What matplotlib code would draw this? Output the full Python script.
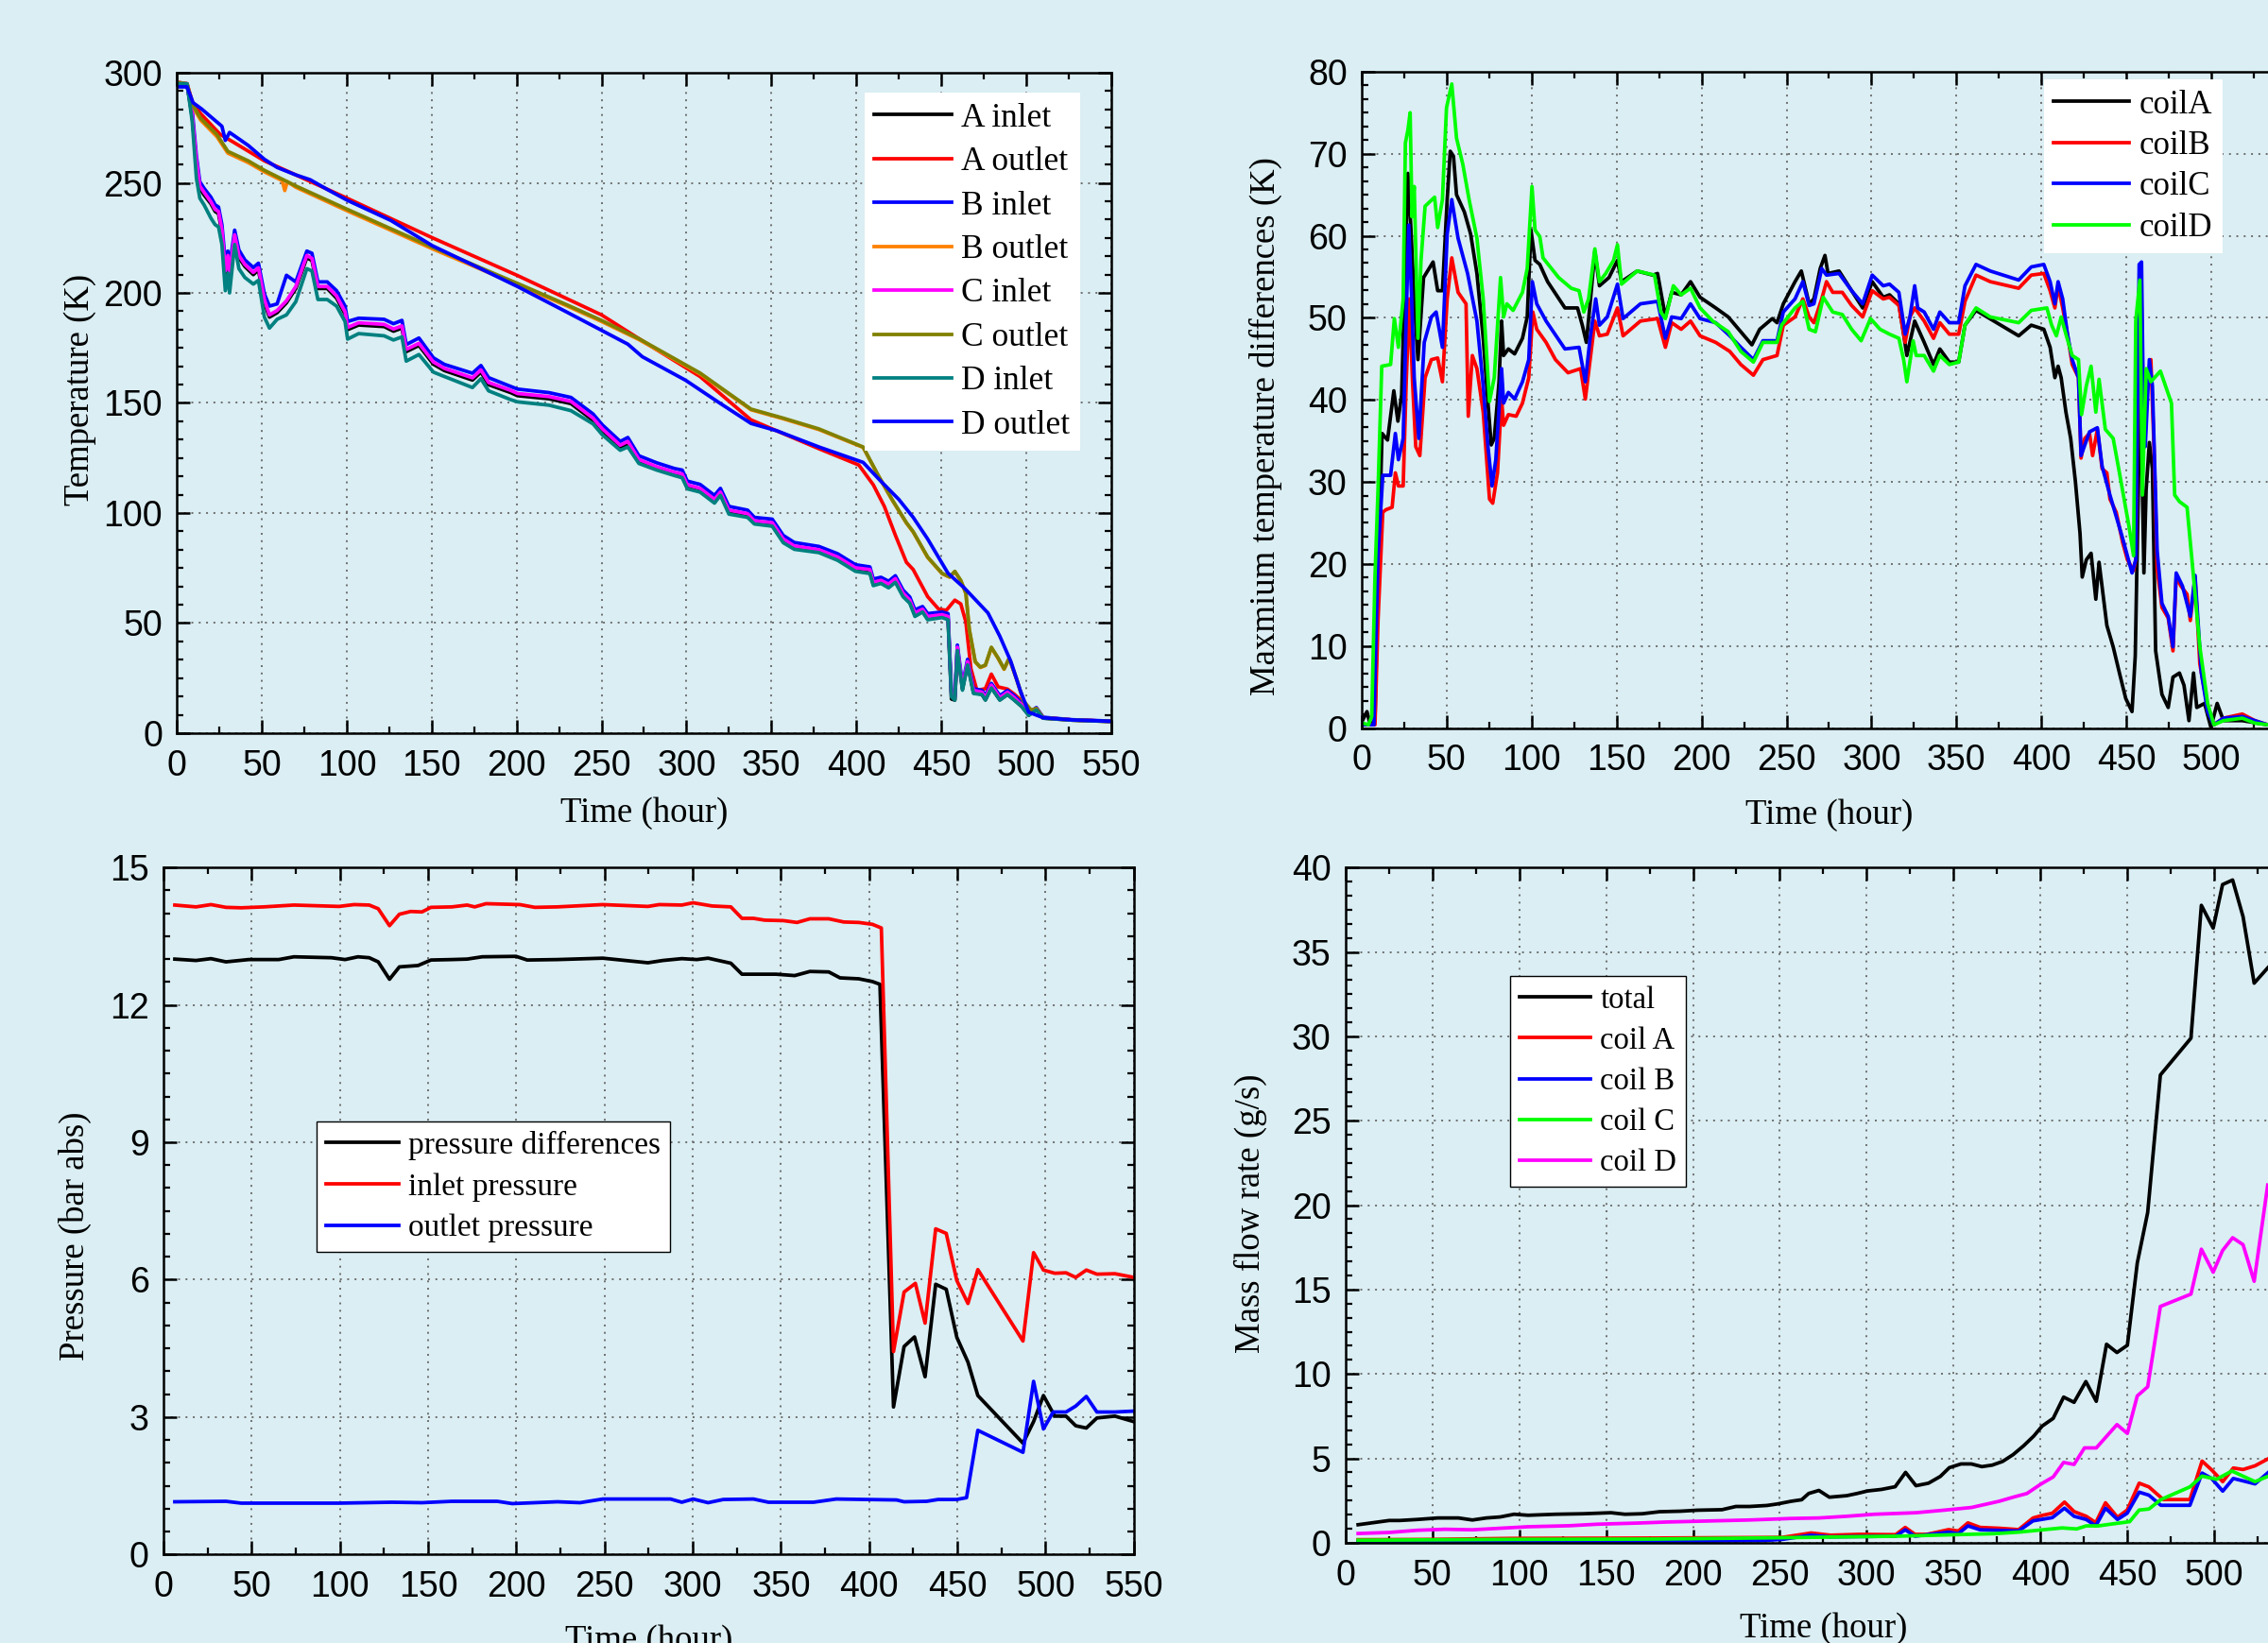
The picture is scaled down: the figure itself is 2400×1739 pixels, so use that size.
import matplotlib as mpl
import matplotlib.pyplot as plt
from matplotlib.ticker import MultipleLocator, AutoMinorLocator

# ===== Data: temperatures (top left) =====
t_in = [0, 6, 9, 11.5, 13.5, 16, 20, 22.5, 24.5, 26.5,
        28.5, 30, 31, 34, 36.5, 40, 45, 48, 51.5, 54.5,
        59, 64.5, 70, 76.5, 79.5, 83, 88.5, 94, 99, 100.5,
        107, 122, 127.5, 132.5, 135, 142.5, 151, 157.5, 174, 179,
        183.5, 196.5, 200.5, 219, 232, 245, 250.5, 261, 265.5, 272,
        282.5, 293, 297.5, 300.5, 308, 316.5, 320, 325, 336, 340,
        350.5, 357, 363.5, 378, 389, 399.5, 408, 410, 414.5, 419,
        423, 427.5, 431.5, 434.5, 439, 442, 450.5, 454, 456, 458,
        459.5, 462.5, 465.5, 469, 474, 476, 479.5, 484.5, 489, 493,
        497.5, 501.5, 506, 510, 527, 549]
a_inlet = [295, 294.5, 280, 259, 247.5, 244.5, 240.5, 237, 236, 227.5,
           209, 216, 207.5, 225.5, 216, 212, 208.3, 210.5, 195.5, 189,
           191, 195.5, 202, 216, 214.7, 202, 202, 197.6, 190.4, 183.3,
           185.4, 184.7, 182.6, 184, 173.3, 176.1, 167.6, 164.7, 160.4, 164,
           158.3, 154.7, 153.3, 151.9, 149.7, 142.1, 137.2, 129.8, 131.5, 123.3,
           120, 117.5, 116.7, 111.8, 110.2, 105.2, 108.5, 100.3, 98.7, 95.4,
           94.6, 87.2, 84, 82.3, 79, 74.1, 73.3, 67.5, 68.4, 66.7,
           69.2, 62.6, 59.4, 53.6, 55.3, 52, 52.8, 52, 15.5, 15,
           38, 20, 31.5, 18.4, 17.6, 15.1, 20.8, 15.1, 17.6, 15.1,
           12, 8.2, 10.7, 6.8, 5.9, 5.3]
b_inlet = [294, 294, 283, 262, 250.5, 247.5, 243.5, 240, 239, 231,
           214, 219, 212, 228.5, 219.5, 215, 211.5, 213.5, 199.5, 194,
           195, 208, 205, 219, 218, 205, 205, 201, 194, 187,
           188.5, 188, 186, 187.5, 176.5, 179.5, 170.5, 167.5, 163.5, 167,
           161.5, 157.5, 156.3, 154.7, 152.5, 145, 140, 132.5, 134.3, 126,
           122.8, 120.2, 119.5, 114.5, 113, 108, 111.2, 103, 101.3, 98,
           97.2, 89.8, 86.6, 84.8, 81.5, 76.5, 75.5, 70, 70.8, 69,
           71.5, 65, 61.8, 56, 57.5, 54.3, 55, 54.3, 18.5, 16.8,
           40, 22, 33.5, 20.2, 19.4, 17, 22.6, 17, 19.4, 17,
           13.5, 9.2, 11.6, 7.2, 6.1, 5.5]
c_inlet = [295.7, 295, 281, 260, 248.6, 245.7, 241.4, 237.9, 237, 228.6,
           210, 217, 208.6, 226.4, 217, 212.9, 209.3, 211.4, 197, 190,
           192, 196.4, 202.9, 217, 215.7, 202.9, 202.9, 198.6, 191.4, 184.3,
           186.4, 185.7, 183.6, 185, 174.3, 177.1, 168.6, 165.7, 161.4, 165,
           159.3, 155.7, 154.3, 152.9, 150.7, 143.1, 138.2, 130.8, 132.5, 124.3,
           121, 118.5, 117.7, 112.8, 111.2, 106.2, 109.5, 101.3, 99.7, 96.4,
           95.6, 88.2, 85, 83.3, 80, 75.1, 74.3, 68.5, 69.4, 67.7,
           70.2, 63.6, 60.4, 54.6, 56.3, 53, 53.8, 53, 17.7, 16.1,
           39, 21, 32.5, 19.4, 18.6, 16.1, 21.8, 16.1, 18.6, 16.1,
           12.8, 8.7, 11.2, 7, 6, 5.4]
d_inlet = [295, 295, 278, 252, 243, 240, 234, 231, 230, 222,
           201, 209, 200, 222, 211, 207, 204, 205.7, 189, 184,
           188, 190, 196, 211, 210, 197, 197, 194, 187, 179,
           181.5, 180.5, 178.6, 180, 169, 172, 164, 162, 157, 161,
           155.5, 151.5, 150.5, 149, 146.5, 140.5, 135.5, 128.5, 130, 122.5,
           119.5, 117, 116, 111, 109.5, 104.5, 108, 99.5, 98, 95,
           94, 86.5, 83.5, 82, 78.5, 73.5, 72.5, 67, 68, 66,
           68.5, 62, 59, 53, 55, 51.5, 52.5, 51.5, 16.5, 15,
           37.5, 19.5, 31, 18, 17.5, 15, 20.5, 15, 17.5, 15,
           12, 8, 10.5, 6.8, 5.9, 5.3]

t_a_out = [0, 6, 9, 14, 25.5, 33, 51.5, 70, 100.5, 150.5,
           200.5, 250, 272, 308, 338, 350.5, 378, 401.5, 410, 416.5,
           423, 429.5, 433.5, 442, 448.5, 453, 458, 461.5, 464.5, 467.5,
           471, 476, 479.5, 483.5, 489, 493, 497.5, 501.5, 506, 510, 527, 549]
a_outlet = [295.7, 295, 287, 281.4, 272, 268.6, 260, 253.6, 242.9, 225,
            207.9, 190, 179.2, 162, 142.3, 138.2, 129.2, 121.8, 112.8, 103,
            89.9, 77.6, 74.3, 62, 56.3, 55.8, 60.4, 58.7, 50.5, 29.2,
            19.4, 20.2, 26.8, 21, 20, 17.7, 14.5, 9.5, 11.2, 7, 6, 5.4]
t_b_out = [0, 6, 9, 14, 23.5, 30, 42, 51.5, 62, 63.5,
           65, 70, 100.5, 150.5, 200.5, 229, 250, 272, 308, 338,
           357, 378, 404, 412.5, 421, 429.5, 433.5, 442, 450.5, 455,
           458, 461.5, 464.5, 466.5, 470, 473, 476, 479.5, 483.5, 487,
           490, 494.5, 498.5, 503, 506, 510, 527, 549]
b_outlet = [295.5, 294.8, 285, 278.5, 271, 263.5, 259.2, 255, 251, 246.5,
            250.5, 248, 237.2, 220, 203.7, 194.3, 187, 178.8, 163.2, 146.9,
            142.8, 137.9, 129.8, 117.5, 106, 95.4, 91.3, 79.8, 72.4, 70.8,
            73.3, 69.2, 63.4, 47, 32.3, 29.8, 30.7, 38.8, 33.9, 29,
            33.9, 24.1, 14.3, 10.3, 11.1, 6.9, 5.9, 5.3]
t_c_out = [0, 6, 9, 14, 23.5, 30, 42, 51.5, 70, 100.5,
           150.5, 200.5, 229, 250, 272, 308, 338, 357, 378, 404,
           412.5, 421, 429.5, 433.5, 442, 450.5, 455, 458, 461.5, 464.5,
           466.5, 470, 473, 476, 479.5, 483.5, 487, 490, 494.5, 498.5,
           503, 506, 510, 527, 549]
c_outlet = [295.7, 295, 285.7, 279.3, 272, 264.3, 260, 255.7, 248.6, 237.9,
            220.7, 204.3, 194.8, 187.5, 179.2, 163.6, 147.2, 143.1, 138.2, 130,
            117.7, 106.2, 95.6, 91.5, 80, 72.6, 71, 73.5, 69.4, 63.6,
            47.2, 32.5, 30, 30.9, 39, 34.1, 29.2, 34.1, 24.3, 14.5,
            10.4, 11.2, 7, 6, 5.4]
t_d_out = [0, 6, 9.5, 14.5, 26.5, 28.5, 31, 42, 51.5, 59,
           70, 78.5, 88.5, 100.5, 126, 150.5, 181.5, 200.5, 229, 250,
           265.5, 274, 299.5, 318.5, 338, 353, 378, 404, 414.5, 425,
           433.5, 442, 454, 463.5, 477.5, 484.5, 491, 496.5, 501.5, 510, 527, 549]
d_outlet = [293.6, 293.6, 286.4, 283.6, 275.7, 269.3, 272.9, 267, 260.7, 257,
            253.6, 251.4, 247, 242, 232.9, 221.4, 210, 202.9, 191.5, 183,
            176.7, 171, 160.3, 150.5, 140.7, 137.4, 130, 123, 114.4, 106.2,
            98, 88.2, 72.6, 66, 54.6, 44, 32.5, 19.4, 9.5, 7, 6, 5.4]

# ===== Data: max temperature differences (top right) =====
t_coilA = [0.4, 3.1, 5, 7.8, 9.6, 12, 15.2, 18.9, 21.3, 23.5,
           25.7, 27.2, 29, 30.9, 33.1, 36.4, 42, 44.7, 47.5, 50.3,
           52.1, 54, 55.8, 60.4, 64.1, 67.8, 71.5, 74.3, 76.2, 78,
           80.8, 82.3, 83.5, 86.3, 90, 94.6, 97.4, 99.6, 102, 104.8,
           109.4, 119.6, 127, 129.8, 132.2, 134.4, 137.2, 139.9, 145.5, 150.5,
           152.9, 162.1, 171.3, 174.1, 178.7, 182.4, 188, 193.5, 199.1, 208.3,
           215.7, 223.1, 229.6, 234.2, 241.6, 244.4, 248.1, 255, 258.7, 263.3,
           266.1, 269.8, 272.6, 274.4, 280.9, 288.3, 294.8, 300.4, 306.9, 310.6,
           316.1, 318.9, 320.8, 325.4, 331, 336.5, 340.2, 345.8, 351.3, 355,
           361.5, 373.6, 386.6, 394, 401.4, 405.1, 407.9, 409.8, 411.6, 414.4,
           417.2, 420, 422.7, 424, 426.4, 429.2, 432, 433.9, 436.6, 438.5,
           442.2, 445.9, 449.6, 453.3, 455.2, 457, 458.3, 459.4, 460.3, 461.6,
           463.5, 465.3, 467.2, 470.9, 474.6, 477.4, 481.2, 483.9, 486.8, 489.5,
           491.4, 496, 499.7, 503.4, 507.1, 518.2, 533, 550]
coilA = [0.9, 2, 0.4, 0.9, 18.4, 35.9, 35.1, 41.1, 37.4, 40.6,
         57.6, 67.6, 60.7, 52.3, 44.9, 54.9, 56.8, 53.3, 53.3, 64.4,
         70.3, 69.7, 65, 62.9, 60.2, 55.4, 47.5, 39.6, 34.5, 35.3,
         42.2, 49.6, 45.4, 46.2, 45.6, 47.5, 50.1, 60.7, 57, 56.5,
         54.4, 51.2, 51.2, 49.1, 47, 51.7, 58.1, 53.9, 54.9, 57,
         54.4, 55.7, 55.2, 55.4, 50.1, 53.1, 52.8, 54.4, 52.5, 51.2,
         50.1, 48.3, 46.7, 48.6, 49.9, 49.4, 51.7, 54.4, 55.7, 51.7,
         52.3, 56, 57.6, 55.4, 55.7, 53.3, 51.2, 54.4, 52.5, 52.8,
         51.7, 48, 45.4, 49.6, 47, 44.3, 46.2, 44.6, 44.6, 49.1,
         50.9, 49.4, 47.8, 49.1, 48.6, 46.4, 42.7, 44.1, 42.7, 38.5,
         35.3, 30, 23.7, 18.4, 20.5, 21.3, 15.7, 20.2, 15.7, 12.5,
         9.9, 6.7, 3.6, 2, 8.8, 29, 45.4, 29, 18.9, 29,
         34.8, 31.6, 9.4, 4.1, 2.5, 6.2, 6.7, 5.2, 0.9, 6.7,
         2.5, 3, 0.1, 3, 0.9, 0.9, 0.4, 0.5]
t_coilB = [0.4, 7.8, 9.6, 12.4, 14.2, 17.9, 19.8, 21.6, 24.4, 26.2,
           28.1, 29.9, 31.8, 34.2, 37.3, 41, 44.7, 47.5, 50.3, 53,
           56.7, 61.4, 62.7, 65.1, 67.8, 71.5, 75.2, 77.1, 79.9, 82.3,
           83.5, 86.3, 90.9, 94.6, 98.3, 100.7, 103, 108.5, 114, 121.4,
           128.8, 131.6, 134.4, 137.2, 139.9, 144.5, 150.5, 153.8, 164, 174.1,
           178.7, 182.4, 188, 193.5, 199.1, 208.3, 216.6, 223.1, 230.5, 236.1,
           244.4, 248.1, 255, 259.6, 263.3, 266.1, 270.7, 273.5, 277.2, 282.8,
           288.3, 294.8, 300.4, 306.9, 310.6, 316.1, 319.8, 322.6, 325.4, 331,
           336.5, 340.2, 345.8, 351.3, 355, 361.5, 369.9, 386.6, 394, 401.4,
           405.1, 407.9, 409.8, 412.5, 415.3, 418.1, 421.8, 423.3, 425.5, 428.3,
           430.1, 432.9, 435.7, 438.5, 440.3, 444, 447.8, 450.6, 454.2, 455.5,
           457, 458.5, 459.4, 460.7, 462.5, 464.4, 466.2, 468.1, 470.9, 474.6,
           477.4, 479.3, 482.1, 485.7, 487.6, 490.4, 493.2, 497.8, 501.5, 507.1,
           518.2, 525.6, 533, 550]
coilB = [0.4, 0.4, 13.1, 26.3, 26.6, 26.9, 31.1, 29.5, 29.5, 42.2,
         52.3, 42.2, 34.3, 33.2, 42.7, 44.9, 45.1, 42.2, 52.3, 57.3,
         53.1, 51.7, 38, 45.4, 43.8, 38.5, 27.9, 27.4, 31.1, 40.1,
         36.9, 38.2, 38, 39.6, 42.7, 50.7, 48.6, 47, 44.9, 43.3,
         43.8, 40.1, 44.9, 49.6, 47.8, 48, 51.2, 47.8, 49.6, 49.9,
         46.4, 49.4, 48.6, 49.6, 47.8, 47, 45.9, 44.3, 43, 44.9,
         45.4, 49.1, 50.1, 52.3, 50.1, 49.4, 52.3, 54.4, 53.1, 53.1,
         51.5, 50.1, 53.3, 52.3, 52.5, 51.5, 47, 50.1, 51.2, 49.6,
         47.5, 49.4, 48, 48, 52, 55.2, 54.4, 53.6, 55.2, 55.4,
         53.3, 51.2, 53.9, 51.2, 48, 44.3, 42.7, 32.9, 35.3, 35.9,
         33.2, 36.4, 31.6, 31.1, 27.9, 26.3, 22.6, 20.5, 19.2, 20.5,
         51.2, 56.5, 44.9, 34.3, 42.2, 44.9, 34.3, 19.4, 14.7, 13.4,
         9.4, 18.4, 17.3, 16.3, 13.1, 18.4, 7.8, 2.5, 0.4, 1.2,
         1.7, 0.9, 0.4, 0.5]
t_coilC = [0.4, 7.2, 9.6, 12.4, 17, 19.8, 21.6, 24.4, 26.2, 27.7,
           29.4, 30.9, 33.6, 36.8, 41, 43.8, 47.5, 50.3, 53, 56.7,
           62.3, 67.8, 71.5, 74.3, 76.7, 78.9, 82.3, 83.5, 86.3, 90,
           94.6, 98.3, 100.4, 103, 108.5, 119.6, 127.9, 131.6, 134.4, 137.7,
           139.9, 144.5, 150.5, 153.8, 164, 174.1, 178.7, 182.4, 188, 193.5,
           199.1, 208.3, 216.6, 223.1, 230.5, 236.1, 244.4, 248.1, 255, 259.6,
           263.3, 266.1, 270.7, 273.5, 280.9, 288.3, 294.8, 300.4, 306.9, 310.6,
           316.1, 319.8, 322.6, 325.4, 327.2, 331, 336.5, 340.2, 345.8, 351.3,
           355, 361.5, 369.9, 386.6, 394, 401.4, 405.1, 407.9, 409.8, 412.5,
           415.3, 418.1, 421.8, 423.3, 428.3, 432.9, 435.7, 440.3, 447.8, 453.3,
           455.5, 457.5, 458.9, 459.8, 461.1, 463.5, 465.3, 468.1, 470.9, 474.6,
           477.4, 479.3, 483, 487.6, 490.4, 494.1, 497.8, 501.5, 507.1, 518.2,
           533, 550]
coilC = [0.4, 0.4, 21, 30.8, 30.8, 35.9, 32.7, 35.3, 50.1, 61.3,
         52.3, 42.7, 35.3, 47, 50.1, 50.7, 46.4, 60.2, 64.4, 59.7,
         55.4, 49.6, 41.7, 34.3, 29.5, 32.7, 43.8, 39.6, 40.9, 40.1,
         42.2, 44.9, 54.4, 51.7, 49.6, 46.2, 46.4, 42.2, 47.5, 52.3,
         49.1, 50.1, 54.1, 49.9, 51.7, 52, 47.5, 50.1, 49.9, 51.7,
         49.9, 49.4, 47.8, 46.4, 44.9, 47.2, 47.2, 50.7, 52.3, 54.4,
         51.5, 51.7, 56, 55.2, 55.4, 53.3, 51.7, 55.2, 53.9, 54.1,
         53.1, 48, 50.1, 53.9, 51.2, 50.7, 48.6, 50.7, 49.4, 49.4,
         53.9, 56.5, 55.7, 54.6, 56.2, 56.5, 54.4, 51.7, 54.4, 52.3,
         48, 44.9, 42.7, 33.2, 36.1, 36.6, 31.9, 28.4, 23.1, 18.9,
         20.5, 56.5, 56.8, 42.2, 34.3, 44.9, 41.7, 21.6, 15.2, 13.6,
         9.9, 18.9, 17.3, 13.6, 18.6, 6.7, 2, 0.4, 1.2, 1.4,
         0.4, 0.5]
t_coilD = [0.4, 4, 5.9, 7.8, 9.6, 11.8, 17, 19.2, 21.6, 24.4,
           25.7, 27.2, 28.5, 29.6, 30.9, 33.1, 34.9, 37.3, 42.9, 44.7,
           47.5, 49.9, 53, 55.8, 59.5, 63.2, 67.8, 71.5, 75.2, 78,
           81.7, 83.5, 85.4, 89.1, 94.6, 97.4, 100.2, 102, 104.8, 106.7,
           115.9, 123.3, 127.9, 130.7, 133.5, 137.2, 139.9, 143.6, 148.2, 150.5,
           152.9, 162.1, 172.3, 176, 178.7, 183.4, 188, 193.5, 199.1, 206.5,
           215.7, 223.1, 230.5, 236.1, 244.4, 247.1, 255, 259.6, 263.3, 267,
           271.6, 277.2, 282.8, 288.3, 293.9, 299.4, 305, 310.6, 316.1, 318.9,
           320.8, 324.5, 326.3, 331, 336.5, 340.2, 345.8, 351.3, 355, 361.5,
           369.9, 386.6, 394, 403.2, 406, 408.8, 411.6, 414.4, 418.1, 421.8,
           423.6, 426.4, 429.2, 432, 433.9, 437.6, 442.2, 445.9, 451.4, 454.2,
           455.5, 457.9, 459.4, 461.6, 464.4, 470, 476.5, 478.4, 481.2, 485.7,
           489.5, 493.2, 497.8, 501.5, 507.1, 518.2, 525.6, 533, 550]
coilD = [0.6, 0.4, 1.4, 18.4, 29, 44.1, 44.3, 49.9, 46.4, 52.3,
         71.3, 72.9, 75, 62.3, 66, 47.5, 57, 63.6, 64.7, 61,
         64.4, 75.6, 78.5, 71.9, 68.7, 64.4, 59.7, 52.3, 39.8, 42.7,
         54.9, 50.1, 51.7, 50.9, 53.1, 56, 66, 60.7, 59.9, 57.3,
         54.9, 53.6, 53.3, 50.7, 52.3, 58.4, 54.4, 55.4, 57, 58.9,
         54.1, 55.7, 55.2, 50.7, 49.9, 53.9, 52.8, 53.6, 51.2, 49.6,
         48.3, 45.9, 44.6, 47, 47, 49.1, 51.2, 52, 48.6, 48.3,
         52.5, 50.7, 50.4, 48.6, 47.2, 49.9, 48.6, 48, 47.5, 44.9,
         42.2, 47.2, 45.4, 45.4, 43.5, 45.4, 44.3, 44.6, 49.1, 51.2,
         50.1, 49.4, 50.9, 51.2, 49.1, 47.8, 50.1, 48, 45.4, 44.9,
         38.2, 41.7, 44.1, 38.5, 42.5, 36.4, 35.3, 31.1, 24.7, 21,
         49.6, 54.6, 28.4, 43.8, 42.2, 43.5, 39.6, 28.4, 27.6, 26.9,
         18.4, 9.9, 3, 0.4, 0.9, 1.2, 0.6, 0.4, 0.5]

# ===== Data: pressure (bottom left) =====
t_p_in = [6.4, 18.4, 26.9, 35.4, 44, 56.8, 73.9, 99.5, 108, 116.6,
          121.7, 128.1, 133.7, 140.1, 146.5, 151.6, 163.5, 172.1, 176.4, 182.8,
          202, 210.5, 223.3, 249, 274.6, 281, 293.8, 300.2, 310.9, 321.6,
          327.9, 334.4, 340.8, 351.4, 359.1, 366.4, 377.1, 385.6, 394.1, 401.8,
          406.9, 413.8, 419.8, 426.2, 431.7, 437.7, 443.7, 449.7, 456, 461.6,
          487.2, 493.2, 498.8, 505.2, 511.6, 517.1, 523.1, 529.1, 539.3, 550]
p_inlet = [14.18, 14.14, 14.19, 14.13, 14.12, 14.14, 14.18, 14.15, 14.19, 14.18,
           14.1, 13.73, 13.98, 14.04, 14.03, 14.13, 14.14, 14.18, 14.14, 14.21,
           14.19, 14.13, 14.14, 14.19, 14.15, 14.19, 14.18, 14.23, 14.16, 14.14,
           13.89, 13.89, 13.85, 13.84, 13.8, 13.88, 13.88, 13.81, 13.8, 13.76,
           13.68, 4.43, 5.73, 5.92, 5.05, 7.11, 7.01, 5.98, 5.48, 6.22,
           4.66, 6.59, 6.21, 6.14, 6.15, 6.05, 6.21, 6.12, 6.13, 6.05]
t_p_diff = [6.4, 18.4, 26.9, 35.4, 48.3, 65.3, 73.9, 95.2, 102.9, 110.2,
            116.6, 121.7, 128.1, 133.7, 144.3, 151.6, 163.5, 172.1, 180.6, 199.8,
            206.2, 223.3, 249, 274.6, 283.1, 293.8, 302.3, 308.7, 321.6, 327.9,
            347.2, 357.8, 366.4, 377.1, 383.5, 394.1, 401.8, 406.1, 413.8, 419.8,
            425.7, 431.7, 437.7, 443.7, 449.7, 456, 461.6, 487.2, 493.2, 498.8,
            505.2, 511.6, 517.1, 523.1, 529.1, 539.3, 550]
p_diff = [13.0, 12.97, 13.01, 12.94, 12.99, 12.99, 13.05, 13.03, 12.99, 13.05,
          13.03, 12.94, 12.56, 12.83, 12.86, 12.98, 12.99, 13.0, 13.05, 13.06,
          12.98, 12.99, 13.02, 12.92, 12.97, 13.01, 12.99, 13.02, 12.91, 12.67,
          12.67, 12.64, 12.73, 12.72, 12.59, 12.57, 12.51, 12.45, 3.22, 4.54,
          4.75, 3.88, 5.9, 5.79, 4.74, 4.2, 3.47, 2.43, 2.9, 3.47,
          3.02, 3.02, 2.81, 2.76, 2.98, 3.02, 2.9]
t_p_out = [6.4, 35.4, 44, 99.5, 129.4, 146.5, 163.5, 189.2, 197.7, 223.3,
           236.1, 249, 287.4, 293.8, 300.2, 308.7, 317.3, 334.4, 342.9, 368.5,
           381.3, 415.5, 419.8, 432.6, 439, 449.7, 455.2, 461.6, 487.2, 493.2,
           498.8, 504.3, 511.6, 517.1, 523.1, 529.1, 539.3, 550]
p_outlet = [1.15, 1.16, 1.12, 1.12, 1.14, 1.13, 1.16, 1.16, 1.11, 1.15,
            1.13, 1.21, 1.21, 1.14, 1.21, 1.13, 1.2, 1.21, 1.14, 1.14,
            1.21, 1.19, 1.15, 1.16, 1.2, 1.2, 1.24, 2.71, 2.23, 3.78,
            2.74, 3.11, 3.11, 3.24, 3.45, 3.11, 3.11, 3.13]

# ===== Data: mass flow rate (bottom right) =====
t_total = [7.2, 25.1, 31.1, 41.1, 53.1, 65, 73, 81, 89, 97,
           105, 120.9, 136.9, 144.9, 152.8, 160.8, 170.8, 180.8, 192.7, 202.7,
           216.7, 224.7, 232.6, 242.6, 248.6, 256.6, 262.6, 266.6, 272.5, 278.5,
           288.5, 294.5, 300.5, 308.5, 316.4, 322.4, 328.4, 335.6, 342.4, 347.6,
           354.3, 360.3, 366.3, 372.3, 378.3, 384.3, 390.3, 396.2, 401, 407.4,
           413.4, 419.4, 426.2, 432.2, 438.1, 444.1, 450.1, 455.8, 461.8, 469.1,
           486.7, 492.7, 499.5, 504.9, 510.7, 516.7, 523.1, 531.3, 540]
m_total = [1.07, 1.32, 1.32, 1.38, 1.47, 1.47, 1.35, 1.47, 1.53, 1.69,
           1.63, 1.69, 1.72, 1.75, 1.78, 1.69, 1.72, 1.84, 1.87, 1.93,
           1.96, 2.15, 2.15, 2.21, 2.3, 2.46, 2.55, 2.92, 3.1, 2.7,
           2.79, 2.92, 3.07, 3.16, 3.32, 4.17, 3.38, 3.53, 3.93, 4.45,
           4.67, 4.67, 4.51, 4.6, 4.82, 5.22, 5.74, 6.32, 6.91, 7.37,
           8.63, 8.32, 9.55, 8.38, 11.76, 11.27, 11.7, 16.57, 19.57, 27.71,
           29.89, 37.76, 36.41, 38.99, 39.26, 37.09, 33.15, 34.1, 34.9]
t_mA = [7.2, 50, 96, 180, 251.4, 268, 279.2, 295.8, 316.7, 322.2,
        327.8, 334.7, 347.2, 352.8, 358.3, 365.3, 376.4, 387.5, 395.8, 401.4,
        406.9, 413.9, 419.4, 426.4, 431.9, 437.5, 444.4, 450, 456.9, 462.5,
        470.8, 486.1, 493.1, 498.6, 505, 511.1, 516.7, 523.6, 531.4]
m_coilA = [0.18, 0.2, 0.26, 0.28, 0.32, 0.58, 0.45, 0.5, 0.48, 0.91,
           0.5, 0.5, 0.78, 0.7, 1.18, 0.91, 0.86, 0.78, 1.47, 1.63,
           1.75, 2.41, 1.85, 1.57, 1.19, 2.37, 1.51, 1.94, 3.53, 3.31,
           2.56, 2.56, 4.84, 4.32, 3.62, 4.43, 4.34, 4.56, 4.99]
t_mB = [7.2, 100, 200, 240, 251.4, 268, 279.2, 316.7, 322.2, 327.8,
        347.2, 352.8, 358.3, 365.3, 387.5, 395.8, 406.9, 413.9, 419.4, 426.4,
        431.9, 437.5, 444.4, 450, 456.9, 462.5, 469.4, 486.1, 493.1, 498.6,
        505, 511.1, 523.6, 531.4]
m_coilB = [0.06, 0.08, 0.1, 0.13, 0.2, 0.45, 0.35, 0.39, 0.77, 0.39,
           0.63, 0.54, 1.0, 0.77, 0.7, 1.3, 1.49, 2.05, 1.57, 1.38,
           1.0, 2.05, 1.38, 1.75, 3.0, 2.82, 2.22, 2.22, 4.13, 3.81,
           3.06, 3.81, 3.49, 4.18]
t_mC = [7.2, 96, 179, 251.4, 318, 373.6, 387.5, 401.4, 412.5, 420.9,
        426.4, 433.4, 440.3, 451.4, 456.9, 462.5, 469.4, 486.1, 493.1, 501.4,
        510.3, 523.6, 531.4]
m_coilC = [0.15, 0.2, 0.22, 0.3, 0.39, 0.54, 0.63, 0.77, 0.88, 0.82,
           1.0, 1.0, 1.1, 1.25, 1.94, 2.0, 2.56, 3.31, 3.95, 3.76,
           4.25, 3.62, 3.95]
t_mD = [7.2, 25.1, 41.1, 57.1, 73, 89, 105, 128.9, 144.9, 168.8,
        184.8, 208.7, 232.6, 256.6, 272.5, 288.5, 304.5, 328.4, 344.4, 360.3,
        376.3, 384.3, 392.3, 400.2, 407.4, 413.4, 419.4, 425.4, 432.2, 444.1,
        450.1, 455.8, 461.8, 469.1, 486.7, 492.7, 499.5, 504.9, 510.7, 516.7,
        523.1, 530.9]
m_coilD = [0.55, 0.61, 0.74, 0.8, 0.77, 0.86, 0.95, 1.01, 1.1, 1.17,
           1.23, 1.29, 1.35, 1.44, 1.47, 1.57, 1.69, 1.78, 1.93, 2.09,
           2.46, 2.7, 2.92, 3.47, 3.9, 4.76, 4.64, 5.62, 5.62, 7,
           6.48, 8.7, 9.24, 14, 14.73, 17.39, 16.03, 17.31, 18.07, 17.66,
           15.49, 21.19]

x_ticks = [0, 50, 100, 150, 200, 250, 300, 350, 400, 450, 500, 550]

# ===== Style =====
BG = '#DAEEF3'
mpl.rcParams.update({
    'font.family': 'Liberation Serif',
    'axes.linewidth': 1.8,
    'xtick.direction': 'in', 'ytick.direction': 'in',
    'xtick.top': True, 'ytick.right': True,
    'xtick.major.size': 10, 'ytick.major.size': 10,
    'xtick.minor.size': 5, 'ytick.minor.size': 5,
    'xtick.major.width': 1.8, 'ytick.major.width': 1.8,
    'xtick.minor.width': 1.6, 'ytick.minor.width': 1.6,
    'xtick.major.pad': 12, 'ytick.major.pad': 11,
    'xtick.labelsize': 27, 'ytick.labelsize': 27,
    'lines.linewidth': 2.7,
})
LABEL_SIZE = 26.5

fig = plt.figure(figsize=(24, 17.39), dpi=100, facecolor=BG)
ax1 = fig.add_axes([0.0780, 0.5538, 0.4119, 0.4019])
ax2 = fig.add_axes([0.6004, 0.5569, 0.4121, 0.3995])
ax3 = fig.add_axes([0.0721, 0.0539, 0.4278, 0.4181])
ax4 = fig.add_axes([0.5933, 0.0610, 0.4212, 0.4110])


def style(ax, ymax, ystep, ylabel, xlab_y, ylab_x, ylab_y, cropped=False):
    ax.set_facecolor('none')
    ax.set_xlim(0, 550)
    ax.set_ylim(0, ymax)
    # the right-hand panels run past the figure edge, so their last label is not shown
    labels = [str(v) for v in x_ticks]
    if cropped:
        labels[-1] = ''
    ax.set_xticks(x_ticks, labels=labels)
    ax.yaxis.set_major_locator(MultipleLocator(ystep))
    ax.xaxis.set_minor_locator(AutoMinorLocator(2))
    ax.yaxis.set_minor_locator(AutoMinorLocator(6))
    ax.tick_params(which='both', labelfontfamily='Liberation Sans')
    ax.grid(True, which='major', linestyle=(0, (1, 3)), color='#6e6e6e', linewidth=1.4)
    ax.set_axisbelow(True)
    ax.set_xlabel('Time (hour)', fontsize=LABEL_SIZE, va='center')
    ax.set_ylabel(ylabel, fontsize=LABEL_SIZE, va='center')
    ax.xaxis.set_label_coords(0.5, xlab_y)
    ax.yaxis.set_label_coords(ylab_x, ylab_y)


def legend(ax, x, y, size, boxed, spacing):
    leg = ax.legend(loc='upper left', bbox_to_anchor=(x, y), borderaxespad=0,
                    fontsize=size, frameon=True, fancybox=False, framealpha=1,
                    facecolor='white', edgecolor='black' if boxed else 'none',
                    handlelength=2.3, handletextpad=0.3, labelspacing=spacing,
                    borderpad=0.3)
    leg.get_frame().set_linewidth(1.0)


# ===== Top left: temperatures =====
ax1.plot(t_in, a_inlet, color='black', label='A inlet')
ax1.plot(t_a_out, a_outlet, color='#FF0000', label='A outlet')
ax1.plot(t_in, b_inlet, color='#0000FF', label='B inlet')
ax1.plot(t_b_out, b_outlet, color='#FF8000', label='B outlet')
ax1.plot(t_in, c_inlet, color='#FF00FF', label='C inlet')
ax1.plot(t_c_out, c_outlet, color='#808000', label='C outlet')
ax1.plot(t_in, d_inlet, color='#008080', label='D inlet')
ax1.plot(t_d_out, d_outlet, color='#0000FF', label='D outlet')
style(ax1, 300, 50, 'Temperature (K)', -0.121, -0.104, 0.52)
legend(ax1, 0.736, 0.970, 25.5, False, 0.38)

# ===== Top right: max temperature differences =====
ax2.plot(t_coilA, coilA, color='black', label='coilA')
ax2.plot(t_coilB, coilB, color='#FF0000', label='coilB')
ax2.plot(t_coilC, coilC, color='#0000FF', label='coilC')
ax2.plot(t_coilD, coilD, color='#00FF00', label='coilD')
style(ax2, 80, 10, 'Maxmium temperature differences (K)', -0.133, -0.103, 0.46, cropped=True)
legend(ax2, 0.730, 0.988, 25, False, 0.3)

# ===== Bottom left: pressure =====
ax3.plot(t_p_diff, p_diff, color='black', label='pressure differences')
ax3.plot(t_p_in, p_inlet, color='#FF0000', label='inlet pressure')
ax3.plot(t_p_out, p_outlet, color='#0000FF', label='outlet pressure')
style(ax3, 15, 3, 'Pressure (bar abs)', -0.126, -0.091, 0.463)
legend(ax3, 0.1576, 0.6307, 24, True, 0.4)

# ===== Bottom right: mass flow rate =====
ax4.plot(t_total, m_total, color='black', label='total')
ax4.plot(t_mA, m_coilA, color='#FF0000', label='coil A')
ax4.plot(t_mB, m_coilB, color='#0000FF', label='coil B')
ax4.plot(t_mC, m_coilC, color='#00FF00', label='coil C')
ax4.plot(t_mD, m_coilD, color='#FF00FF', label='coil D')
style(ax4, 40, 5, 'Mass flow rate (g/s)', -0.127, -0.099, 0.488, cropped=True)
legend(ax4, 0.1727, 0.839, 23.5, True, 0.39)

fig.savefig('out.png', dpi=100, facecolor=BG)
